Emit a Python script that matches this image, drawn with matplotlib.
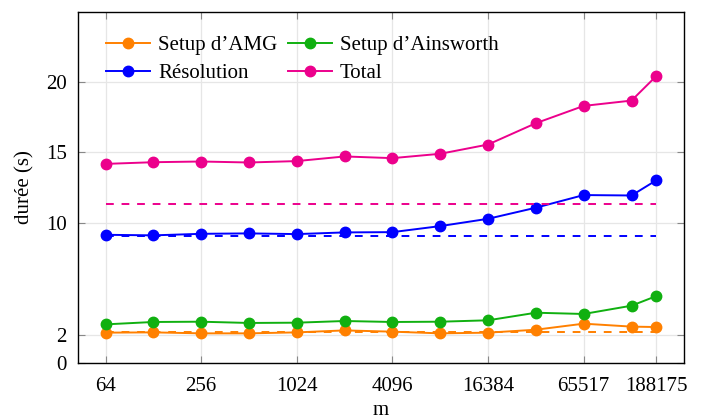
import numpy as np
import matplotlib.pyplot as plt

plt.rcParams['font.family'] = ['Liberation Serif', 'DejaVu Serif']

m = [64, 128, 256, 512, 1024, 2048, 4096, 8192, 16384, 32768, 65517, 131072, 188175]
xticks = [64, 256, 1024, 4096, 16384, 65517, 188175]

setup_amg = [2.16, 2.18, 2.11, 2.11, 2.18, 2.32, 2.23, 2.11, 2.16, 2.37, 2.80, 2.59, 2.56]
setup_ains = [2.75, 2.92, 2.94, 2.85, 2.87, 2.99, 2.92, 2.94, 3.04, 3.58, 3.49, 4.08, 4.77]
resolution = [9.13, 9.09, 9.20, 9.23, 9.18, 9.30, 9.32, 9.75, 10.27, 11.06, 11.96, 11.93, 13.02]
total = [14.18, 14.30, 14.35, 14.28, 14.38, 14.71, 14.59, 14.90, 15.56, 17.08, 18.31, 18.69, 20.45]

# references (dashed)
ref_amg = 2.22
ref_res = 9.06
ref_total = 11.32

c_orange = '#ff8000'
c_green = '#10b010'
c_blue = '#0000ff'
c_pink = '#ec008c'

fig = plt.figure(figsize=(7.07, 4.19), dpi=100)
ax = fig.add_axes([0.1103, 0.1337, 0.8572, 0.8377])

kw = dict(marker='o', markersize=7.5, linewidth=1.4)
h_amg, = ax.plot(m, setup_amg, color=c_orange, label="Setup d’AMG", **kw)
h_ains, = ax.plot(m, setup_ains, color=c_green, label="Setup d’Ainsworth", **kw)
h_res, = ax.plot(m, resolution, color=c_blue, label="Résolution", **kw)
h_tot, = ax.plot(m, total, color=c_pink, label="Total", **kw)

for val, c in [(ref_amg, c_orange), (ref_res, c_blue), (ref_total, c_pink)]:
    ax.plot([m[0], m[-1]], [val, val], color=c, linestyle=(0, (4, 4)), linewidth=1.4)

ax.set_xscale('log', base=2)
lo, hi = np.log2(m[0]), np.log2(m[-1])
pad = 0.05 * (hi - lo)
ax.set_xlim(2 ** (lo - pad), 2 ** (hi + pad))
ax.set_ylim(0, 25)
ax.set_xticks(xticks)
ax.set_xticklabels([str(t) for t in xticks])
ax.xaxis.set_minor_locator(plt.NullLocator())
ax.set_yticks([0, 2, 10, 15, 20])

ax.grid(True, color='#e6e6e6', linewidth=0.9)
ax.set_axisbelow(True)
ax.tick_params(direction='in', length=5, color='#888888', top=True, right=True,
               labelsize=15)
ax.tick_params(axis='x', pad=10)
ax.tick_params(axis='y', pad=8)
for s in ax.spines.values():
    s.set_linewidth(1.0)

ax.set_xlabel('m', fontsize=15, labelpad=4)
ax.set_ylabel('durée (s)', fontsize=15, labelpad=8)

# column-wise fill -> order so rows read AMG/Ainsworth, Résolution/Total
ax.legend([h_amg, h_res, h_ains, h_tot],
          [h.get_label() for h in [h_amg, h_res, h_ains, h_tot]],
          loc='upper left', ncol=2, frameon=False, fontsize=15,
          handlelength=2.1, handletextpad=0.4, columnspacing=0.5,
          labelspacing=0.4, borderaxespad=0.0, bbox_to_anchor=(0.0325, 0.956))

fig.savefig('out.png', dpi=100)
